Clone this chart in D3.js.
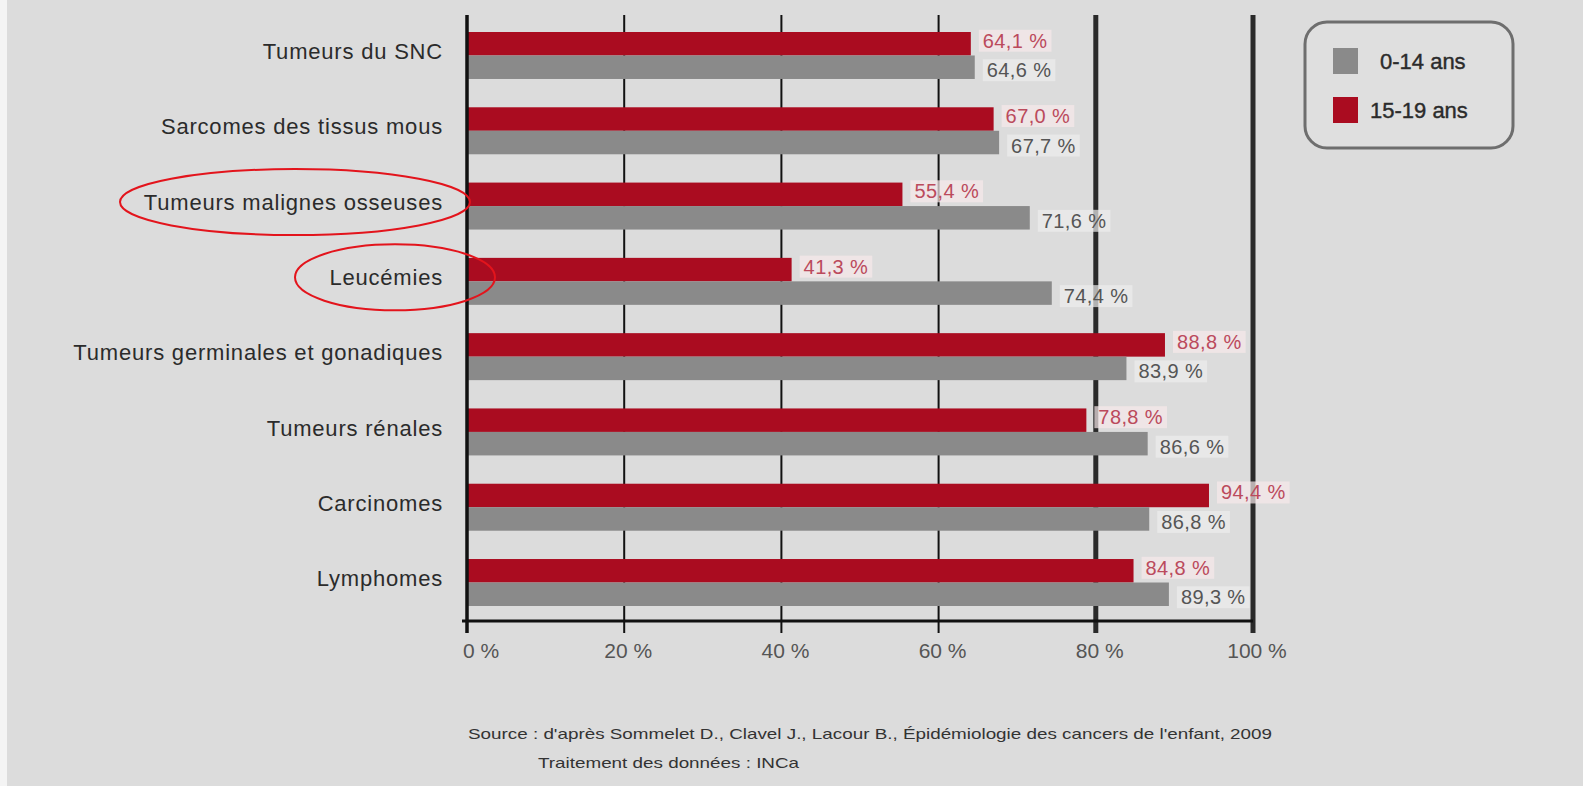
<!DOCTYPE html>
<html lang="fr">
<head>
<meta charset="utf-8">
<script src="https://cdn.jsdelivr.net/npm/d3@7"></script>
<style>
  html, body { margin: 0; padding: 0; background: #dcdcdc; }
  svg { display: block; font-family: "Liberation Sans", Arial, sans-serif; }
</style>
</head>
<body>
<svg id="chart" width="1583" height="786"></svg>
<script>
// Survival by cancer type and age group
const categories = [
  "Tumeurs du SNC",
  "Sarcomes des tissus mous",
  "Tumeurs malignes osseuses",
  "Leucémies",
  "Tumeurs germinales et gonadiques",
  "Tumeurs rénales",
  "Carcinomes",
  "Lymphomes"
];
const values15to19 = [64.1, 67.0, 55.4, 41.3, 88.8, 78.8, 94.4, 84.8];
const values0to14  = [64.6, 67.7, 71.6, 74.4, 83.9, 86.6, 86.8, 89.3];
const seriesNames  = ["0-14 ans", "15-19 ans"];
const tickValues   = [0, 20, 40, 60, 80, 100];
const highlighted  = ["Tumeurs malignes osseuses", "Leucémies"];
const sourceLines  = [
  "Source : d'après Sommelet D., Clavel J., Lacour B., Épidémiologie des cancers de l'enfant, 2009",
  "Traitement des données : INCa"
];

const RED = "#aa0c20", GREY = "#8a8a8a";
const svg = d3.select("#chart");

// page background with the pale strip on the left edge
svg.append("rect").attr("width", 1583).attr("height", 786).attr("fill", "#dcdcdc");
svg.append("rect").attr("width", 7).attr("height", 786).attr("fill", "#f4f4f4");

const x = d3.scaleLinear().domain([0, 100]).range([467, 1253]);
const y = d3.scaleBand().domain(categories).range([32, 606]).paddingInner(0.376).paddingOuter(0);
const bh = y.bandwidth() / 2;
const plotTop = 15, axisY = 621, tickBottom = 633;

// vertical grid lines (the two right-most are heavier)
svg.append("g").selectAll("line")
  .data(tickValues.filter(v => v > 0))
  .join("line")
  .attr("x1", d => x(d)).attr("x2", d => x(d))
  .attr("y1", plotTop).attr("y2", tickBottom)
  .attr("stroke", d => d >= 80 ? "#2a2a2a" : "#111")
  .attr("stroke-width", d => d >= 80 ? 5 : 2);

// bars
const groups = svg.append("g").selectAll("g")
  .data(categories.map((c, i) => ({ c, older: values15to19[i], younger: values0to14[i] })))
  .join("g");

groups.append("rect")
  .attr("x", x(0)).attr("y", d => y(d.c))
  .attr("width", d => x(d.older) - x(0)).attr("height", bh)
  .attr("fill", RED);
groups.append("rect")
  .attr("x", x(0)).attr("y", d => y(d.c) + bh)
  .attr("width", d => x(d.younger) - x(0)).attr("height", bh)
  .attr("fill", GREY);

// axes
svg.append("line").attr("x1", x(0)).attr("x2", x(0)).attr("y1", plotTop).attr("y2", tickBottom)
  .attr("stroke", "#111").attr("stroke-width", 3.5);
svg.append("line").attr("x1", x(0) - 5).attr("x2", x(100)).attr("y1", axisY).attr("y2", axisY)
  .attr("stroke", "#111").attr("stroke-width", 3);

svg.append("g").selectAll("text")
  .data(tickValues)
  .join("text")
  .attr("x", d => x(d) + (d === 0 ? 14 : 4))
  .attr("y", 658)
  .attr("text-anchor", "middle")
  .attr("font-size", 21)
  .attr("fill", "#555")
  .text(d => d + " %");

// category labels
svg.append("g").selectAll("text")
  .data(categories)
  .join("text")
  .attr("x", 443)
  .attr("y", d => y(d) + bh - 4)
  .attr("dy", "0.35em")
  .attr("text-anchor", "end")
  .attr("font-size", 22)
  .attr("letter-spacing", 0.8)
  .attr("fill", "#2b2b2b")
  .text(d => d);

// value labels with a light box behind them
const fmt = v => d3.format(".1f")(v).replace(".", ",") + " %";
function valueLabel(sel, key, dyOff, yOff, color, boxFill) {
  const g = sel.append("g");
  g.append("text")
    .attr("x", d => x(d[key]) + 12)
    .attr("y", d => y(d.c) + yOff + dyOff)
    .attr("dy", "0.35em")
    .attr("font-size", 20)
    .attr("letter-spacing", 0.4)
    .attr("fill", color)
    .text(d => fmt(d[key]));
  g.each(function () {
    const b = d3.select(this).select("text").node().getBBox();
    d3.select(this).insert("rect", "text")
      .attr("x", b.x - 4).attr("y", b.y)
      .attr("width", b.width + 8).attr("height", b.height)
      .attr("fill", boxFill);
  });
}
valueLabel(groups, "older", -3, bh / 2, "#bb4a5c", "rgba(246,232,234,0.7)");
valueLabel(groups, "younger", 3, bh * 1.5, "#555", "rgba(236,236,236,0.7)");

// highlight ellipses around two categories
const ellipses = [
  { c: highlighted[0], cx: 295, rx: 175, ry: 33 },
  { c: highlighted[1], cx: 395, rx: 100, ry: 33 }
];
svg.append("g").selectAll("ellipse")
  .data(ellipses)
  .join("ellipse")
  .attr("cx", d => d.cx)
  .attr("cy", d => y(d.c) + bh - 4)
  .attr("rx", d => d.rx).attr("ry", d => d.ry)
  .attr("fill", "none")
  .attr("stroke", "#e3141c")
  .attr("stroke-width", 2);

// legend
const legend = svg.append("g");
legend.append("rect")
  .attr("x", 1305).attr("y", 22).attr("width", 208).attr("height", 126)
  .attr("rx", 22).attr("ry", 22)
  .attr("fill", "#dfdfdf").attr("stroke", "#6e6e6e").attr("stroke-width", 3);
const legendItems = [
  { name: seriesNames[0], color: GREY, y: 61, tx: 1380 },
  { name: seriesNames[1], color: RED,  y: 110, tx: 1370 }
];
legend.selectAll("g.item")
  .data(legendItems)
  .join("g").attr("class", "item")
  .each(function (d) {
    const g = d3.select(this);
    g.append("rect").attr("x", 1333).attr("y", d.y - 13).attr("width", 25).attr("height", 26).attr("fill", d.color);
    g.append("text").attr("x", d.tx).attr("y", d.y).attr("dy", "0.35em")
      .attr("font-size", 22).attr("fill", "#2b2b2b")
      .attr("stroke", "#2b2b2b").attr("stroke-width", 0.4)
      .text(d.name);
  });

// source note: a narrow face stretched horizontally to the note's width
const source = svg.append("g").selectAll("text")
  .data(sourceLines)
  .join("text")
  .attr("x", (d, i) => i === 0 ? 468 : 538)
  .attr("y", (d, i) => i === 0 ? 739 : 768)
  .attr("font-size", 15)
  .attr("fill", "#333")
  .text(d => d);
const noteWidth = 804;
const stretch = noteWidth / source.nodes()[0].getComputedTextLength();
source.each(function () {
  d3.select(this)
    .attr("textLength", this.getComputedTextLength() * stretch)
    .attr("lengthAdjust", "spacingAndGlyphs");
});
</script>
</body>
</html>
